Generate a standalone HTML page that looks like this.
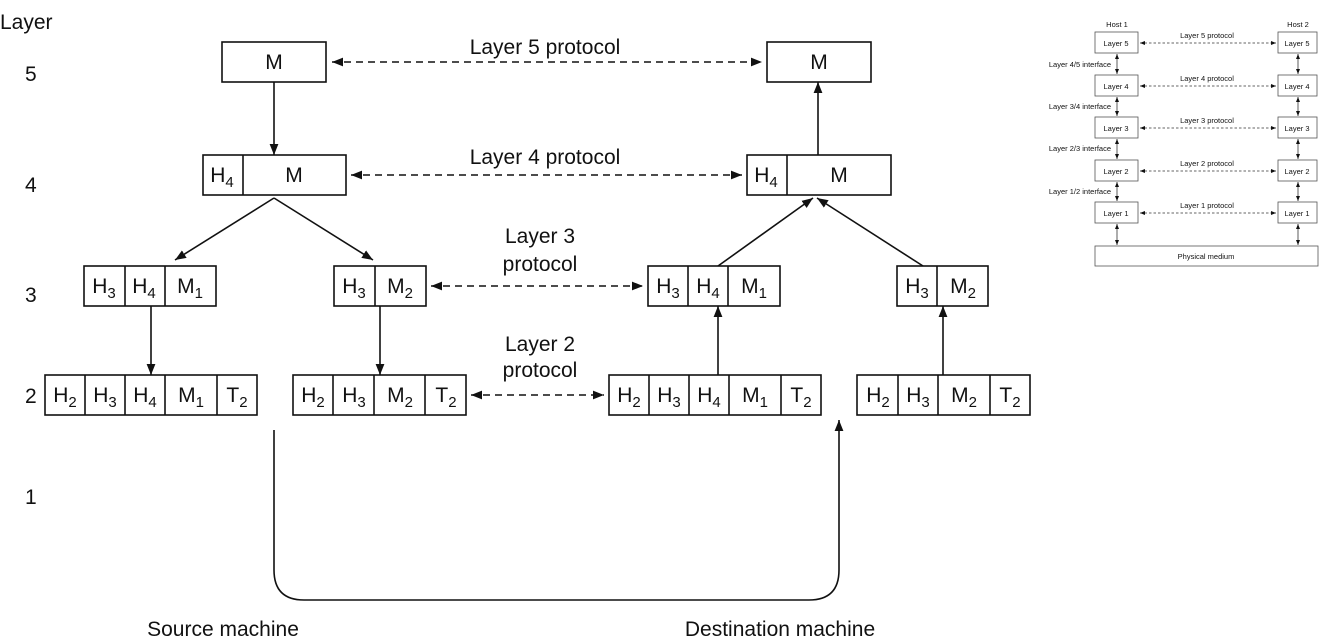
<!DOCTYPE html>
<html><head><meta charset="utf-8"><style>
body{margin:0;background:#fff}
svg{display:block}
text{font-family:"Liberation Sans",Arial,sans-serif;fill:#111}
.b{font-size:21px}
.b tspan{font-size:15px}
</style></head><body>
<svg width="1324" height="640" viewBox="0 0 1324 640" xmlns="http://www.w3.org/2000/svg">
<defs>
<marker id="a" viewBox="0 0 10 10" refX="10" refY="5" markerWidth="11" markerHeight="11" markerUnits="userSpaceOnUse" orient="auto-start-reverse"><path d="M0,1 L10,5 L0,9 z" fill="#111"/></marker>
<marker id="sa" viewBox="0 0 10 10" refX="10" refY="5" markerWidth="5" markerHeight="5" markerUnits="userSpaceOnUse" orient="auto-start-reverse"><path d="M0,1 L10,5 L0,9 z" fill="#111"/></marker>
</defs>
<g class="b">
<text x="0" y="29">Layer</text>
<text x="25" y="81">5</text>
<text x="25" y="192">4</text>
<text x="25" y="302">3</text>
<text x="25" y="403">2</text>
<text x="25" y="504">1</text>
<text x="223" y="636" text-anchor="middle">Source machine</text>
<text x="780" y="636" text-anchor="middle">Destination machine</text>
<text x="545" y="54" text-anchor="middle">Layer 5 protocol</text>
<text x="545" y="164" text-anchor="middle">Layer 4 protocol</text>
<text x="540" y="243" text-anchor="middle">Layer 3</text>
<text x="540" y="271" text-anchor="middle">protocol</text>
<text x="540" y="351" text-anchor="middle">Layer 2</text>
<text x="540" y="377" text-anchor="middle">protocol</text>
</g>
<g fill="none" stroke="#111" stroke-width="1.6">
<rect x="222" y="42" width="104" height="40"/>
<rect x="767" y="42" width="104" height="40"/>
<rect x="203" y="155" width="143" height="40"/><line x1="243" y1="155" x2="243" y2="195"/>
<rect x="747" y="155" width="144" height="40"/><line x1="787" y1="155" x2="787" y2="195"/>
<rect x="84" y="266" width="132" height="40"/><line x1="125" y1="266" x2="125" y2="306"/><line x1="165" y1="266" x2="165" y2="306"/>
<rect x="334" y="266" width="92" height="40"/><line x1="375" y1="266" x2="375" y2="306"/>
<rect x="648" y="266" width="132" height="40"/><line x1="688" y1="266" x2="688" y2="306"/><line x1="728" y1="266" x2="728" y2="306"/>
<rect x="897" y="266" width="91" height="40"/><line x1="937" y1="266" x2="937" y2="306"/>
<rect x="45" y="375" width="212" height="40"/><line x1="85" y1="375" x2="85" y2="415"/><line x1="125" y1="375" x2="125" y2="415"/><line x1="165" y1="375" x2="165" y2="415"/><line x1="217" y1="375" x2="217" y2="415"/>
<rect x="293" y="375" width="173" height="40"/><line x1="333" y1="375" x2="333" y2="415"/><line x1="374" y1="375" x2="374" y2="415"/><line x1="425" y1="375" x2="425" y2="415"/>
<rect x="609" y="375" width="212" height="40"/><line x1="649" y1="375" x2="649" y2="415"/><line x1="689" y1="375" x2="689" y2="415"/><line x1="729" y1="375" x2="729" y2="415"/><line x1="781" y1="375" x2="781" y2="415"/>
<rect x="857" y="375" width="173" height="40"/><line x1="898" y1="375" x2="898" y2="415"/><line x1="938" y1="375" x2="938" y2="415"/><line x1="990" y1="375" x2="990" y2="415"/>
<line x1="274" y1="82" x2="274" y2="155" marker-end="url(#a)"/>
<line x1="818" y1="155" x2="818" y2="82" marker-end="url(#a)"/>
<line x1="274" y1="198" x2="175" y2="260" marker-end="url(#a)"/>
<line x1="274" y1="198" x2="373" y2="260" marker-end="url(#a)"/>
<line x1="718" y1="266" x2="813" y2="198" marker-end="url(#a)"/>
<line x1="923" y1="266" x2="817" y2="198" marker-end="url(#a)"/>
<line x1="151" y1="306" x2="151" y2="375" marker-end="url(#a)"/>
<line x1="380" y1="306" x2="380" y2="375" marker-end="url(#a)"/>
<line x1="718" y1="375" x2="718" y2="306" marker-end="url(#a)"/>
<line x1="943" y1="375" x2="943" y2="306" marker-end="url(#a)"/>
<path d="M274,430 V570 Q274,600 304,600 H809 Q839,600 839,570 V420" marker-end="url(#a)"/>
<g stroke-dasharray="7,5">
<line x1="332" y1="62" x2="762" y2="62" marker-start="url(#a)" marker-end="url(#a)"/>
<line x1="351" y1="175" x2="742" y2="175" marker-start="url(#a)" marker-end="url(#a)"/>
<line x1="431" y1="286" x2="643" y2="286" marker-start="url(#a)" marker-end="url(#a)"/>
<line x1="471" y1="395" x2="604" y2="395" marker-start="url(#a)" marker-end="url(#a)"/>
</g>
</g>
<g class="b" text-anchor="middle">
<text x="274" y="69">M</text><text x="819" y="69">M</text>
<text x="222" y="182">H<tspan dy="5">4</tspan></text><text x="294" y="182">M</text>
<text x="766" y="182">H<tspan dy="5">4</tspan></text><text x="839" y="182">M</text>
<text x="104" y="293">H<tspan dy="5">3</tspan></text><text x="144" y="293">H<tspan dy="5">4</tspan></text><text x="190" y="293">M<tspan dy="5">1</tspan></text>
<text x="354" y="293">H<tspan dy="5">3</tspan></text><text x="400" y="293">M<tspan dy="5">2</tspan></text>
<text x="668" y="293">H<tspan dy="5">3</tspan></text><text x="708" y="293">H<tspan dy="5">4</tspan></text><text x="754" y="293">M<tspan dy="5">1</tspan></text>
<text x="917" y="293">H<tspan dy="5">3</tspan></text><text x="963" y="293">M<tspan dy="5">2</tspan></text>
<text x="65" y="402">H<tspan dy="5">2</tspan></text><text x="105" y="402">H<tspan dy="5">3</tspan></text><text x="145" y="402">H<tspan dy="5">4</tspan></text><text x="191" y="402">M<tspan dy="5">1</tspan></text><text x="237" y="402">T<tspan dy="5">2</tspan></text>
<text x="313" y="402">H<tspan dy="5">2</tspan></text><text x="354" y="402">H<tspan dy="5">3</tspan></text><text x="400" y="402">M<tspan dy="5">2</tspan></text><text x="446" y="402">T<tspan dy="5">2</tspan></text>
<text x="629" y="402">H<tspan dy="5">2</tspan></text><text x="669" y="402">H<tspan dy="5">3</tspan></text><text x="709" y="402">H<tspan dy="5">4</tspan></text><text x="755" y="402">M<tspan dy="5">1</tspan></text><text x="801" y="402">T<tspan dy="5">2</tspan></text>
<text x="878" y="402">H<tspan dy="5">2</tspan></text><text x="918" y="402">H<tspan dy="5">3</tspan></text><text x="964" y="402">M<tspan dy="5">2</tspan></text><text x="1010" y="402">T<tspan dy="5">2</tspan></text>
</g>
<g fill="#fff" stroke="#555" stroke-width="0.8">
<rect x="1095" y="32" width="43" height="21"/><rect x="1278" y="32" width="39" height="21"/>
<rect x="1095" y="75" width="43" height="21"/><rect x="1278" y="75" width="39" height="21"/>
<rect x="1095" y="117" width="43" height="21"/><rect x="1278" y="117" width="39" height="21"/>
<rect x="1095" y="160" width="43" height="21"/><rect x="1278" y="160" width="39" height="21"/>
<rect x="1095" y="202" width="43" height="21"/><rect x="1278" y="202" width="39" height="21"/>
<rect x="1095" y="246" width="223" height="20"/>
</g>
<g stroke="#333" stroke-width="0.8" fill="none">
<g stroke-dasharray="2.5,2">
<line x1="1140" y1="43" x2="1276" y2="43" marker-start="url(#sa)" marker-end="url(#sa)"/>
<line x1="1140" y1="86" x2="1276" y2="86" marker-start="url(#sa)" marker-end="url(#sa)"/>
<line x1="1140" y1="128" x2="1276" y2="128" marker-start="url(#sa)" marker-end="url(#sa)"/>
<line x1="1140" y1="171" x2="1276" y2="171" marker-start="url(#sa)" marker-end="url(#sa)"/>
<line x1="1140" y1="213" x2="1276" y2="213" marker-start="url(#sa)" marker-end="url(#sa)"/>
</g>
<line x1="1117" y1="54" x2="1117" y2="74" marker-start="url(#sa)" marker-end="url(#sa)"/>
<line x1="1117" y1="97" x2="1117" y2="116" marker-start="url(#sa)" marker-end="url(#sa)"/>
<line x1="1117" y1="139" x2="1117" y2="159" marker-start="url(#sa)" marker-end="url(#sa)"/>
<line x1="1117" y1="182" x2="1117" y2="201" marker-start="url(#sa)" marker-end="url(#sa)"/>
<line x1="1117" y1="224" x2="1117" y2="245" marker-start="url(#sa)" marker-end="url(#sa)"/>
<line x1="1298" y1="54" x2="1298" y2="74" marker-start="url(#sa)" marker-end="url(#sa)"/>
<line x1="1298" y1="97" x2="1298" y2="116" marker-start="url(#sa)" marker-end="url(#sa)"/>
<line x1="1298" y1="139" x2="1298" y2="159" marker-start="url(#sa)" marker-end="url(#sa)"/>
<line x1="1298" y1="182" x2="1298" y2="201" marker-start="url(#sa)" marker-end="url(#sa)"/>
<line x1="1298" y1="224" x2="1298" y2="245" marker-start="url(#sa)" marker-end="url(#sa)"/>
</g>
<g style="font-size:7.5px" text-anchor="middle">
<text x="1117" y="27">Host 1</text><text x="1298" y="27">Host 2</text>
<text x="1116" y="46">Layer 5</text><text x="1297" y="46">Layer 5</text>
<text x="1116" y="89">Layer 4</text><text x="1297" y="89">Layer 4</text>
<text x="1116" y="131">Layer 3</text><text x="1297" y="131">Layer 3</text>
<text x="1116" y="174">Layer 2</text><text x="1297" y="174">Layer 2</text>
<text x="1116" y="216">Layer 1</text><text x="1297" y="216">Layer 1</text>
<text x="1207" y="38">Layer 5 protocol</text>
<text x="1207" y="81">Layer 4 protocol</text>
<text x="1207" y="123">Layer 3 protocol</text>
<text x="1207" y="166">Layer 2 protocol</text>
<text x="1207" y="208">Layer 1 protocol</text>
<text x="1206" y="259">Physical medium</text>
</g>
<g style="font-size:7.5px" text-anchor="end">
<text x="1111" y="67">Layer 4/5 interface</text>
<text x="1111" y="109">Layer 3/4 interface</text>
<text x="1111" y="151">Layer 2/3 interface</text>
<text x="1111" y="194">Layer 1/2 interface</text>
</g>
</svg>
</body></html>
